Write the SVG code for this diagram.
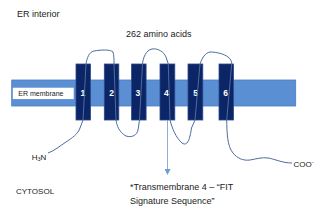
<svg xmlns="http://www.w3.org/2000/svg" width="330" height="214" viewBox="0 0 330 214">
<defs>
<style>
.t{font-family:"Liberation Sans",Arial,sans-serif;fill:#222;}
.hx{fill:#0c2566;stroke:#2a4a8a;stroke-width:0.8;}
.num{font-family:"Liberation Sans",Arial,sans-serif;font-weight:bold;font-size:8.5px;fill:#fff;text-anchor:middle;}
.chain{fill:none;stroke:#4d6c9c;stroke-width:1;}
</style>
<marker id="ah" markerWidth="6" markerHeight="6" refX="3" refY="3" orient="auto" markerUnits="userSpaceOnUse">
<path d="M0,0 L6,3 L0,6 Z" fill="#6f9ad2"/>
</marker>
</defs>
<rect width="330" height="214" fill="#fff"/>
<text class="t" x="17" y="17" font-size="9">ER interior</text>
<text class="t" x="126" y="37" font-size="9">262 amino acids</text>
<g id="membrane">
<rect x="11.7" y="80" width="284" height="26" fill="#5b8fd3" stroke="#4b7dc2" stroke-width="0.8"/>
<rect x="12.5" y="87.3" width="61.5" height="12" fill="#fff" stroke="#4b7dc2" stroke-width="0.5"/>
<text class="t" x="18.3" y="96.3" font-size="7">ER membrane</text>
</g>
<g id="helix1"><rect class="hx" x="76" y="64" width="14.5" height="56"/><text class="num" x="82.8" y="96">1</text></g>
<g id="helix2"><rect class="hx" x="104.3" y="64" width="14.5" height="56"/><text class="num" x="111.7" y="96">2</text></g>
<g id="helix3"><rect class="hx" x="131.6" y="64" width="14.5" height="56"/><text class="num" x="137.8" y="96">3</text></g>
<g id="helix4"><rect class="hx" x="160" y="64" width="14.8" height="56"/><text class="num" x="166.4" y="96">4</text></g>
<g id="helix5"><rect class="hx" x="188" y="64" width="14.8" height="56"/><text class="num" x="195.7" y="96">5</text></g>
<g id="helix6"><rect class="hx" x="219" y="64" width="14.5" height="56"/><text class="num" x="225.7" y="96">6</text></g>
<g id="connectors">
<path class="chain" d="M48,153 C54,151 60,146 66,142 C72,138 78,134 80,128 L83,120 L86,64 C87,58 89,52 94,51 C100,50 110,49 113,52 C114,55 114,60 114,64 L116,120 C117,126 119,132 126,136 C132,138 137,135 138,130 L139.5,120 L142.5,64 C143,58 146,50 152,49 C158,48 164,52 166,57 L168.3,64 L170,120 C172,128 176,138 182,143 C188,147 190,138 191.5,128 L195,120 L200,64 C202,58 205,53 210,52 C217,52 224,54 228,57 C231,59 231.7,62 231.7,64 L226.7,120 C227,132 227,146 233,153 C237,158 243,161 250,160 C256,159 262,157 268,158 C275,159 282,163 292,163"/>
<line x1="167.5" y1="120" x2="167.5" y2="172" stroke="#6f9ad2" stroke-width="0.8" marker-end="url(#ah)"/>
</g>
<text class="t" x="31.7" y="159.5" font-size="8">H<tspan font-size="5.5" dy="1.5">3</tspan><tspan dy="-1.5">N</tspan></text>
<text class="t" x="293.5" y="167" font-size="8">COO<tspan font-size="6" dy="-3">-</tspan></text>
<text class="t" x="16" y="194" font-size="8">CYTOSOL</text>
<text class="t" x="130" y="190" font-size="9">*Transmembrane 4 – “FIT</text>
<text class="t" x="130" y="203.5" font-size="9">Signature Sequence”</text>
</svg>
